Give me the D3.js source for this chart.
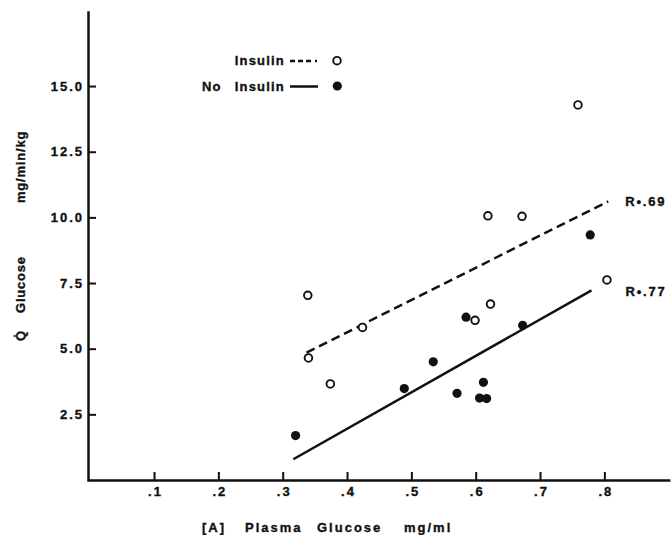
<!DOCTYPE html>
<html>
<head>
<meta charset="utf-8">
<script src="https://cdn.jsdelivr.net/npm/d3@7"></script>
<style>
  body { margin: 0; background: #fff; }
  svg { display: block; }
  text { font-family: "Liberation Sans", Arial, sans-serif; font-weight: bold; fill: #111; stroke: #111; stroke-width: 0.35px; }
</style>
</head>
<body>
<div class="chart"></div>
<script>
// plasma glucose (mg/ml) vs Q glucose (mg/min/kg)
var insulinX = [0.339, 0.340, 0.424, 0.374, 0.619, 0.672, 0.804, 0.623, 0.599, 0.759];
var insulinY = [7.03, 4.65, 5.81, 3.66, 10.06, 10.04, 7.62, 6.70, 6.08, 14.28];

var noInsulinX = [0.320, 0.489, 0.534, 0.571, 0.778, 0.585, 0.673, 0.612, 0.606, 0.617];
var noInsulinY = [1.69, 3.48, 4.50, 3.30, 9.33, 6.20, 5.89, 3.72, 3.12, 3.10];

// regression lines (start, end)
var insulinFitX = [0.337, 0.806];
var insulinFitY = [4.85, 10.61];
var noInsulinFitX = [0.3165, 0.780];
var noInsulinFitY = [0.79, 7.22];

var xTicks = [0.1, 0.2, 0.3, 0.4, 0.5, 0.6, 0.7, 0.8];
var xTickLabels = ['.1', '.2', '.3', '.4', '.5', '.6', '.7', '.8'];
var yTicks = [2.5, 5, 7.5, 10, 12.5, 15];
var yTickLabels = ['2.5', '5.0', '7.5', '10.0', '12.5', '15.0'];

var width = 672, height = 535;

var svg = d3.select('.chart').append('svg')
  .attr('width', width).attr('height', height);

var x = d3.scaleLinear().domain([0, 0.9]).range([89.7, 668.7]);
var y = d3.scaleLinear().domain([0, 17.82]).range([480, 12]);

// axes - ticks point inward
var xAxis = d3.axisBottom(x)
  .tickValues(xTicks)
  .tickFormat(function(d, i) { return xTickLabels[i]; })
  .tickSizeInner(-8).tickSizeOuter(0).tickPadding(7);

var yAxis = d3.axisLeft(y)
  .tickValues(yTicks)
  .tickFormat(function(d, i) { return yTickLabels[i]; })
  .tickSizeInner(-8).tickSizeOuter(0).tickPadding(4);

var gx = svg.append('g').attr('transform', 'translate(0,480)').call(xAxis);
var gy = svg.append('g').attr('transform', 'translate(88,0)').call(yAxis);

[gx, gy].forEach(function(g) {
  g.select('.domain').attr('stroke', '#111').attr('stroke-width', 2.5).attr('stroke-linecap', 'square');
  g.selectAll('.tick line').attr('stroke', '#111').attr('stroke-width', 2);
  g.selectAll('.tick text')
    .attr('fill', '#111')
    .style('font-family', '"Liberation Sans", Arial, sans-serif')
    .style('font-weight', 'bold')
    .style('font-size', '13px')
    .style('letter-spacing', '2px');
});
gx.selectAll('.tick text').attr('dx', '1px');

// axis titles
var xTitle = svg.append('text')
  .attr('y', 532)
  .style('font-size', '13px')
  .style('letter-spacing', '2px');
xTitle.append('tspan').attr('x', 202).text('[A]');
xTitle.append('tspan').attr('x', 245).text('Plasma');
xTitle.append('tspan').attr('x', 317).text('Glucose');
xTitle.append('tspan').attr('x', 404).text('mg/ml');

function yTitle(txt, yStart) {
  svg.append('text')
    .attr('transform', 'translate(25,' + yStart + ') rotate(-90)')
    .style('font-size', '13px')
    .style('letter-spacing', '0.8px')
    .text(txt);
}
yTitle('Q\u0307', 341);
yTitle('Glucose', 313);
yTitle('mg/min/kg', 203);

// fitted lines
var line = d3.line()
  .x(function(d) { return x(d[0]); })
  .y(function(d) { return y(d[1]); });

svg.append('path')
  .datum(d3.zip(insulinFitX, insulinFitY))
  .attr('d', line)
  .attr('fill', 'none').attr('stroke', '#111')
  .attr('stroke-width', 2.5).attr('stroke-dasharray', '9,5');

svg.append('path')
  .datum(d3.zip(noInsulinFitX, noInsulinFitY))
  .attr('d', line)
  .attr('fill', 'none').attr('stroke', '#111')
  .attr('stroke-width', 2.5);

// R labels
svg.append('text').attr('x', x(insulinFitX[1]) + 17).attr('y', y(insulinFitY[1]) + 5)
  .style('font-size', '13px').style('letter-spacing', '1.8px').text('R\u2022.69');
svg.append('text').attr('x', x(noInsulinFitX[1]) + 34).attr('y', y(noInsulinFitY[1]) + 6)
  .style('font-size', '13px').style('letter-spacing', '1.8px').text('R\u2022.77');

// points
svg.selectAll('.open')
  .data(d3.zip(insulinX, insulinY))
  .enter().append('circle')
  .attr('class', 'open')
  .attr('cx', function(d) { return x(d[0]); })
  .attr('cy', function(d) { return y(d[1]); })
  .attr('r', 3.8)
  .attr('fill', '#fff').attr('stroke', '#111').attr('stroke-width', 1.9);

svg.selectAll('.filled')
  .data(d3.zip(noInsulinX, noInsulinY))
  .enter().append('circle')
  .attr('class', 'filled')
  .attr('cx', function(d) { return x(d[0]); })
  .attr('cy', function(d) { return y(d[1]); })
  .attr('r', 4.6)
  .attr('fill', '#111');

// legend
svg.append('text').attr('x', 285).attr('y', 65).attr('text-anchor', 'end')
  .style('font-size', '13px').style('letter-spacing', '1.2px').text('Insulin');
svg.append('text').attr('x', 285).attr('y', 90.5).attr('text-anchor', 'end')
  .style('font-size', '13px').style('letter-spacing', '1.2px').text('Insulin');
svg.append('text').attr('x', 202).attr('y', 90.5)
  .style('font-size', '13px').style('letter-spacing', '1.2px').text('No');

svg.append('line').attr('x1', 290).attr('x2', 320).attr('y1', 61).attr('y2', 61)
  .attr('stroke', '#111').attr('stroke-width', 2.5).attr('stroke-dasharray', '5,3,5,3,5,4,2,9');
svg.append('line').attr('x1', 290).attr('x2', 318).attr('y1', 86.5).attr('y2', 86.5)
  .attr('stroke', '#111').attr('stroke-width', 2.5);

svg.append('circle').attr('cx', 337).attr('cy', 60.7).attr('r', 3.8)
  .attr('fill', '#fff').attr('stroke', '#111').attr('stroke-width', 1.9);
svg.append('circle').attr('cx', 337.3).attr('cy', 86).attr('r', 4.6).attr('fill', '#111');
</script>
</body>
</html>
